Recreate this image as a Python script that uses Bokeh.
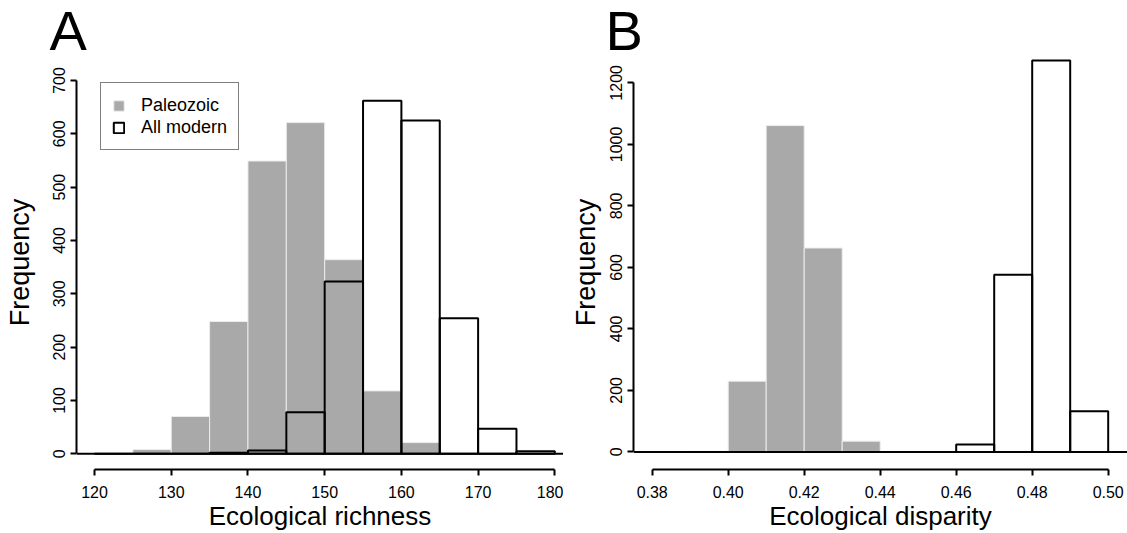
from bokeh.plotting import figure
from bokeh.layouts import row
from bokeh.models import (Span, Legend, LegendItem, FixedTicker,
                          Range1d, PrintfTickFormatter, ColumnDataSource)
from bokeh.embed import file_html
from bokeh.resources import INLINE

# ---------------- data ----------------
# Panel A: ecological richness, bins of width 5 from 120 to 180
richness_edges = [120, 125, 130, 135, 140, 145, 150, 155, 160, 165, 170, 175, 180]
paleozoic_richness = [0, 8, 70, 248, 549, 621, 364, 118, 21, 0, 0, 0]
modern_richness = [0, 0, 0, 2, 6, 78, 323, 662, 625, 254, 47, 5]
richness_xticks = [120, 130, 140, 150, 160, 170, 180]
richness_yticks = [0, 100, 200, 300, 400, 500, 600, 700]

# Panel B: ecological disparity, bins of width 0.01 from 0.38 to 0.50
disparity_edges = [0.38, 0.39, 0.40, 0.41, 0.42, 0.43, 0.44, 0.45, 0.46,
                   0.47, 0.48, 0.49, 0.50]
paleozoic_disparity = [0, 2, 230, 1061, 663, 35, 0, 0, 0, 0, 0, 0]
modern_disparity = [0, 0, 0, 0, 0, 0, 0, 0, 24, 576, 1273, 132]
disparity_xticks = [0.38, 0.40, 0.42, 0.44, 0.46, 0.48, 0.50]
disparity_yticks = [0, 200, 400, 600, 800, 1000, 1200]

series_names = ["Paleozoic", "All modern"]

# ---------------- style ----------------
FONT = "Liberation Sans"
GREY = "#a9a9a9"
HEIGHT = 533
TOP = 55
BOTTOM = 64
FRAME_H = HEIGHT - TOP - BOTTOM


def panel(edges, paleo, modern, xr, yr, xticks, yticks, xlabel, letter,
          letter_offset, frame_w, left_border, ylabel_standoff, fmt=None,
          legend=False):
    p = figure(width=left_border + frame_w, height=HEIGHT,
               x_range=Range1d(*xr), y_range=Range1d(*yr),
               output_backend="svg", toolbar_location=None,
               min_border_left=left_border, min_border_right=0,
               min_border_top=TOP, min_border_bottom=BOTTOM,
               background_fill_color="white", border_fill_color="white")
    p.outline_line_color = None
    p.xgrid.visible = False
    p.ygrid.visible = False

    # panel letter as the figure title
    p.title.text = letter
    p.title.text_font = FONT
    p.title.text_font_size = "56px"
    p.title.text_font_style = "normal"
    p.title.text_color = "black"
    p.title.align = "left"
    p.title.offset = letter_offset
    p.title.standoff = -12

    src_p = ColumnDataSource(dict(left=edges[:-1], right=edges[1:],
                                  top=paleo, bottom=[0] * len(paleo)))
    src_m = ColumnDataSource(dict(left=edges[:-1], right=edges[1:],
                                  top=modern, bottom=[0] * len(modern)))
    rp = p.quad(left="left", right="right", top="top", bottom="bottom",
                source=src_p, fill_color=GREY, line_color="#ececec",
                line_width=1)
    rm = p.quad(left="left", right="right", top="top", bottom="bottom",
                source=src_m, fill_color=None, line_color="black",
                line_width=2)
    p.add_layout(Span(location=0, dimension="width", line_color="black",
                      line_width=2))

    # axes
    for ax in (p.xaxis[0], p.yaxis[0]):
        ax.axis_line_width = 2
        ax.major_tick_line_width = 2
        ax.minor_tick_line_color = None
        ax.major_tick_in = 0
        ax.major_tick_out = 6
        ax.major_label_text_font = FONT
        ax.major_label_text_font_size = "16px"
        ax.major_label_text_color = "black"
        ax.axis_label_text_font = FONT
        ax.axis_label_text_font_style = "normal"
        ax.axis_label_text_color = "black"
    xa = p.xaxis[0]
    xa.ticker = FixedTicker(ticks=xticks)
    xa.bounds = (xticks[0], xticks[-1])
    xa.axis_label = xlabel
    xa.axis_label_text_font_size = "26px"
    xa.major_label_standoff = 10
    xa.axis_label_standoff = 0
    if fmt:
        xa.formatter = PrintfTickFormatter(format=fmt)
    ya = p.yaxis[0]
    ya.ticker = FixedTicker(ticks=yticks)
    ya.bounds = (yticks[0], yticks[-1])
    ya.axis_label = "Frequency"
    ya.axis_label_text_font_size = "27px"
    ya.major_label_orientation = "vertical"
    ya.major_label_standoff = 5
    ya.axis_label_standoff = ylabel_standoff

    if legend:
        lg = Legend(items=[LegendItem(label=series_names[0], renderers=[rp]),
                           LegendItem(label=series_names[1], renderers=[rm])],
                    location=(24, FRAME_H - 29 - 66),
                    label_text_font=FONT, label_text_font_size="18px",
                    label_text_color="black",
                    glyph_width=13, glyph_height=13, label_standoff=16,
                    label_height=22, spacing=0, padding=11, margin=0,
                    border_line_color="black", border_line_width=1.5,
                    background_fill_color="white", background_fill_alpha=1)
        p.add_layout(lg)
    return p


# Panel A: frame 487 px wide (~7.672 px per unit), 0.5333 px per count
pa = panel(richness_edges, paleozoic_richness, modern_richness,
           (117.65, 181.13), (-29.4, 746.8),
           richness_xticks, richness_yticks, "Ecological richness", "A", -27,
           frame_w=487, left_border=76, ylabel_standoff=16, legend=True)

# Panel B: frame 494 px wide (3800 px per unit), 0.3077 px per count
pb = panel(disparity_edges, paleozoic_disparity, modern_disparity,
           (0.37508, 0.50508), (-57.2, 1289.0),
           disparity_xticks, disparity_yticks, "Ecological disparity", "B", -28,
           frame_w=494, left_border=70, ylabel_standoff=7, fmt="%.2f")

layout = row(pa, pb)
open("out.html", "w").write(file_html(layout, INLINE))
